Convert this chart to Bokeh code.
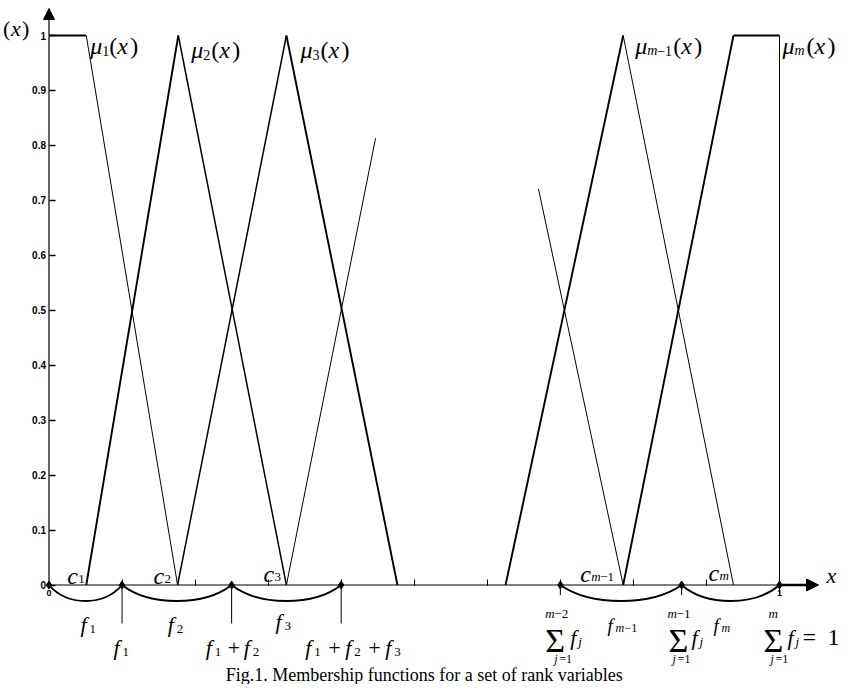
from bokeh.plotting import figure
from bokeh.models import Range1d, LinearAxis, FixedTicker, Label, Arrow, NormalHead
from bokeh.embed import file_html
from bokeh.resources import INLINE

# ---------------- data ----------------
MU1_X = [0.0, 0.051, 0.176]
MU1_Y = [1.0, 1.0, 0.0]
MU2_X = [0.051, 0.177, 0.325]
MU2_Y = [0.0, 1.0, 0.0]
MU3_X = [0.176, 0.325, 0.477]
MU3_Y = [0.0, 1.0, 0.0]
MU4_X = [0.325, 0.447]
MU4_Y = [0.0, 0.813]
MUM2_X = [0.670, 0.786]
MUM2_Y = [0.721, 0.0]
MUM1_X = [0.625, 0.786, 0.937]
MUM1_Y = [0.0, 1.0, 0.0]
MUM_X = [0.786, 0.937, 1.0, 1.0]
MUM_Y = [0.0, 1.0, 1.0, 0.0]

C_X = [0.051, 0.176, 0.325, 0.786, 0.937]
PART_LEFT = [0.0, 0.1, 0.25, 0.4]
PART_RIGHT = [0.7, 0.866, 1.0]

Y_TICKS = [0.0, 0.1, 0.2, 0.3, 0.4, 0.5, 0.6, 0.7, 0.8, 0.9, 1.0]
Y_TICK_LABELS = ["0", "0.1", "0.2", "0.3", "0.4", "0.5", "0.6", "0.7", "0.8", "0.9", "1"]
X_MAJOR_TICKS = [0.0, 1.0]
X_MAJOR_LABELS = ["0", "1"]
X_MINOR_TICKS = [0.1, 0.2, 0.3, 0.4, 0.5, 0.6, 0.7, 0.8, 0.9]
CAPTION = "Fig.1. Membership functions for a set of rank variables"

# ---------------- layout / styles ----------------
W, H = 839, 684
X0_PX, PX_X = 48.5, 730.5
Y0_PX, PX_Y = 584.5, 549.5
SERIF = "Liberation Serif"
SANS = "Liberation Sans"
THICK, MID, THIN = 1.9, 1.5, 1.0

p = figure(width=W, height=H, output_backend="svg", toolbar_location=None,
           x_range=Range1d(-X0_PX / PX_X, (W - X0_PX) / PX_X),
           y_range=Range1d((Y0_PX - H) / PX_Y, Y0_PX / PX_Y),
           x_axis_type=None, y_axis_type=None, min_border=0,
           outline_line_color=None, background_fill_color="white",
           border_fill_color="white")

# axes (placed at the origin)
yax = LinearAxis(fixed_location=0, ticker=FixedTicker(ticks=Y_TICKS),
                 major_label_overrides=dict(zip(Y_TICKS, Y_TICK_LABELS)),
                 major_tick_in=6, major_tick_out=0, minor_tick_in=0, minor_tick_out=0,
                 axis_line_color=None, major_tick_line_color="black", major_tick_line_width=1.5,
                 major_label_text_font=SANS, major_label_text_font_style="bold",
                 major_label_text_font_size="10px", major_label_standoff=3,
                 major_label_text_color="black")
p.add_layout(yax, "left")
xax = LinearAxis(fixed_location=0,
                 ticker=FixedTicker(ticks=X_MAJOR_TICKS, minor_ticks=X_MINOR_TICKS),
                 major_label_overrides=dict(zip(X_MAJOR_TICKS, X_MAJOR_LABELS)),
                 major_tick_in=0, major_tick_out=0, minor_tick_in=6, minor_tick_out=0,
                 minor_tick_line_color="black", minor_tick_line_width=1,
                 axis_line_color=None,
                 major_label_text_font=SANS, major_label_text_font_style="bold",
                 major_label_text_font_size="9px", major_label_standoff=5,
                 major_label_text_color="black")
p.add_layout(xax, "below")

# axis lines with arrows
y_end = (Y0_PX - 8) / PX_Y
x_end = (818 - X0_PX) / PX_X
p.add_layout(Arrow(end=NormalHead(size=11, fill_color="black", line_color="black"),
                   x_start=0, y_start=0, x_end=0, y_end=y_end,
                   line_width=1.2, line_color="black"))
p.segment(x0=[0], y0=[0], x1=[1.0], y1=[0], line_width=1.2, line_color="black")
p.add_layout(Arrow(end=NormalHead(size=12, fill_color="black", line_color="black"),
                   x_start=1.0, y_start=0, x_end=x_end, y_end=0,
                   line_width=2.5, line_color="black"))

# membership functions: segment line widths (style)
FUNCS = [
    (MU1_X, MU1_Y, [THICK, THIN]),
    (MU2_X, MU2_Y, [THICK, MID]),
    (MU3_X, MU3_Y, [MID, THICK]),
    (MU4_X, MU4_Y, [THIN]),
    (MUM2_X, MUM2_Y, [THIN]),
    (MUM1_X, MUM1_Y, [THICK, THIN]),
    (MUM_X, MUM_Y, [THICK, THICK, THIN]),
]
for xs, ys, widths in FUNCS:
    for i, w in enumerate(widths):
        p.line(xs[i:i + 2], ys[i:i + 2], line_width=w, line_color="black")

# arcs below the axis (f_j intervals)
ARC_DEPTH = 16 / PX_Y
for pts in (PART_LEFT, PART_RIGHT):
    x0s, x1s = pts[:-1], pts[1:]
    cx0 = [a + 0.25 * (b - a) for a, b in zip(x0s, x1s)]
    cx1 = [b - 0.25 * (b - a) for a, b in zip(x0s, x1s)]
    n = len(x0s)
    p.bezier(x0=x0s, y0=[0] * n, x1=x1s, y1=[0] * n, cx0=cx0, cy0=[-4 / 3 * ARC_DEPTH] * n,
             cx1=cx1, cy1=[-4 / 3 * ARC_DEPTH] * n, line_width=THICK, line_color="black")

# drop lines and markers at partition points
LONG_DROP = -38.5 / PX_Y
SHORT_DROP = -10 / PX_Y
p.segment(x0=PART_LEFT[1:], y0=[0] * 3, x1=PART_LEFT[1:], y1=[LONG_DROP] * 3,
          line_width=1, line_color="black")
p.segment(x0=PART_RIGHT, y0=[0] * 3, x1=PART_RIGHT, y1=[SHORT_DROP] * 3,
          line_width=1, line_color="black")
p.scatter(PART_LEFT + PART_RIGHT, [0] * 7, marker="diamond", size=8, color="black")


def runs(x, y, dx, down, items):
    """items: (text, style, size_px, rel_x, rel_down)"""
    for text, style, size, rx, rd in items:
        p.add_layout(Label(x=x, y=y, x_offset=dx + rx, y_offset=-(down + rd), text=text,
                           text_font=SERIF, text_font_size=f"{size}px",
                           text_font_style=style, text_baseline="alphabetic",
                           text_align="left", text_color="black"))


def mu_items(sub_runs, paren_x):
    it = [("μ", "italic", 24, 0, 0)]
    it += [(t, s, 14, rx, 5) for t, s, rx in sub_runs]
    it += [("(", "normal", 24, paren_x, 0), ("x", "italic", 24, paren_x + 8, 0),
           (")", "normal", 24, paren_x + 21, 0)]
    return it


# y-axis name "(x)"
runs(0, 1.0, -46, -7, [("(", "normal", 22, 0, 0), ("x", "italic", 22, 8, 0),
                       (")", "normal", 22, 19, 0)])

# mu labels
runs(MU1_X[1], 1.0, 4, 10, mu_items([("1", "normal", 12)], 19))
runs(MU2_X[1], 1.0, 13, 14, mu_items([("2", "normal", 12)], 20))
runs(MU3_X[1], 1.0, 14, 14, mu_items([("3", "normal", 12)], 20))
runs(MUM1_X[1], 1.0, 12, 10, mu_items([("m", "italic", 12), ("−1", "normal", 22)], 38))
runs(MUM_X[2], 1.0, 3, 10, mu_items([("m", "italic", 12)], 24))

# c labels
C_SUBS = [[("1", "normal", 11)], [("2", "normal", 11)], [("3", "normal", 11)],
          [("m", "italic", 11), ("−1", "normal", 20)], [("m", "italic", 11)]]
C_DX = [-19, -24, -23, -43, -25]
C_DOWN = [-9.5, -9.5, -11.5, -11.5, -12.5]
for cx, subs, dx, dn in zip(C_X, C_SUBS, C_DX, C_DOWN):
    runs(cx, 0, dx, dn, [("c", "italic", 24, 0, 0)] + [(t, s, 13, rx, 3) for t, s, rx in subs])

# f_j labels (interval midpoints)
mids = [(a + b) / 2 for a, b in zip(PART_LEFT[:-1], PART_LEFT[1:])]
for m, sub, dx, dn in zip(mids, ["1", "2", "3"], [-5, -9, -11], [39.5, 39.5, 36.5]):
    runs(m, 0, dx, dn, [("f", "italic", 22, 0, 0), (sub, "normal", 13, 9, 4)])
mids_r = [(a + b) / 2 for a, b in zip(PART_RIGHT[:-1], PART_RIGHT[1:])]
runs(mids_r[0], 0, -13.5, 40, [("f", "italic", 19, 0, 0), ("m", "italic", 12, 8, 3),
                               ("−1", "normal", 12, 17, 3)])
runs(mids_r[1], 0, -17, 40, [("f", "italic", 19, 0, 0), ("m", "italic", 12, 8, 3)])

# cumulative labels
CUM_DOWN = 62.5
runs(PART_LEFT[1], 0, -8.5, CUM_DOWN, [("f", "italic", 22, 0, 0), ("1", "normal", 13, 9, 4)])
runs(PART_LEFT[2], 0, -26, CUM_DOWN, [("f", "italic", 22, 0, 0), ("1", "normal", 13, 9, 4),
                                      ("+", "normal", 22, 22, 0), ("f", "italic", 22, 38, 0),
                                      ("2", "normal", 13, 47, 4)])
runs(PART_LEFT[3], 0, -36, CUM_DOWN, [("f", "italic", 22, 0, 0), ("1", "normal", 13, 9, 4),
                                      ("+", "normal", 22, 23, 0), ("f", "italic", 22, 40, 0),
                                      ("2", "normal", 13, 49, 4), ("+", "normal", 22, 63, 0),
                                      ("f", "italic", 22, 80, 0), ("3", "normal", 13, 89, 4)])


def sigma(x, dx_top, top_runs, dx_sig, dx_f, dx_bot, extra=()):
    items = [(t, s, 13, dx_top + rx, 28.5) for t, s, rx in top_runs]
    items += [("Σ", "normal", 34, dx_sig, 55)]
    items += [("f", "italic", 22, dx_f, 52), ("j", "italic", 13, dx_f + 8, 56)]
    items += [("j", "italic", 12, dx_bot, 74), ("=1", "normal", 12, dx_bot + 5, 74)]
    items += list(extra)
    runs(x, 0, 0, 0, items)


sigma(PART_RIGHT[0], -15, [("m", "italic", 0), ("−2", "normal", 9)], -15, 10, -6)
sigma(PART_RIGHT[1], -14, [("m", "italic", 0), ("−1", "normal", 9)], -13, 10, -9)
sigma(PART_RIGHT[2], -11, [("m", "italic", 0)], -16, 8, -9,
      extra=[("=", "normal", 24, 23, 52), ("1", "normal", 24, 48, 52)])

# x label
runs(x_end, 0, 8, -10, [("x", "italic", 22, 0, 0)])

# caption
p.add_layout(Label(x=0.5, y=0, x_offset=10, y_offset=-90, text=CAPTION,
                   text_font=SERIF, text_font_size="18px", text_align="center",
                   text_baseline="alphabetic", text_color="black"))

open("out.html", "w").write(file_html(p, INLINE))
